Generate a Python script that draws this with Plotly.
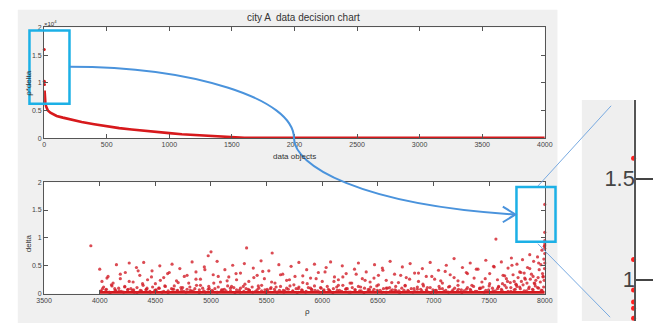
import plotly.graph_objects as go

W, H = 665, 329

def px(x):
    return x / W

def py(y):
    return 1 - y / H

# ---------------- data ----------------
# top: decision values (rho*delta, in units of 1e4) sorted by rank
head_rank = [1, 2, 3]
head_gamma = [1.60, 1.03, 0.97]
rank = [4, 5, 6, 8, 10, 15, 20, 30, 50, 75, 100, 150, 200, 300, 400, 500, 600, 700,
        800, 900, 1000, 1100, 1200, 1300, 1400, 1500, 1550, 1600, 2000, 3000, 4000]
gamma = [0.86, 0.80, 0.75, 0.70, 0.64, 0.58, 0.54, 0.50, 0.46, 0.43, 0.40, 0.37, 0.34,
         0.29, 0.25, 0.21, 0.18, 0.155, 0.13, 0.11, 0.09, 0.07, 0.055, 0.04, 0.03, 0.02,
         0.01, 0.005, 0.004, 0.004, 0.004]

# bottom: delta vs rho scatter
rho_low = [4010, 4035, 4060, 4085, 4110, 4140, 4170, 4195, 4225, 4250, 4280, 4310, 4335, 4365,
           4390, 4420, 4450, 4475, 4505, 4530, 4560, 4590, 4615, 4645, 4670, 4700, 4730, 4755,
           4785, 4810, 4840, 4870, 4895, 4925, 4950, 4980, 5010, 5035, 5065, 5090, 5120, 5150,
           5175, 5205, 5230, 5260, 5290, 5315, 5345, 5370, 5400, 5430, 5455, 5485, 5510, 5540,
           5570, 5595, 5625, 5650, 5680, 5710, 5735, 5765, 5790, 5820, 5850, 5875, 5905, 5930,
           5960, 5990, 6015, 6045, 6070, 6100, 6130, 6155, 6185, 6210, 6240, 6270, 6295, 6325,
           6350, 6380, 6410, 6435, 6465, 6490, 6520, 6550, 6575, 6605, 6630, 6660, 6690, 6715,
           6745, 6770, 6800, 6830, 6855, 6885, 6910, 6940, 6970, 6995, 7025, 7050, 7080, 7110,
           7135, 7165, 7190, 7220, 7250, 7275, 7305, 7330, 7360, 7390, 7415, 7445, 7470, 7500,
           7530, 7555, 7585, 7610, 7640, 7670, 7695, 7725, 7750, 7780, 7805, 7835, 7860, 7890,
           7915, 7945, 7970, 7990]
delta_low = [.05, .12, .08, .03, .14, .06, .10, .04, .13, .07, .09, .03, .11, .06,
             .15, .08, .04, .12, .07, .10, .03, .13, .05, .09, .14, .06, .11, .04,
             .08, .12, .05, .15, .07, .10, .03, .13, .06, .09, .12, .04, .08, .14,
             .05, .11, .07, .03, .13, .09, .06, .12, .04, .10, .15, .07, .05, .11,
             .08, .03, .13, .06, .10, .14, .04, .09, .12, .06, .03, .11, .08, .14,
             .05, .10, .07, .13, .04, .09, .12, .06, .15, .08, .03, .11, .07, .13,
             .05, .10, .04, .12, .08, .14, .06, .09, .03, .11, .07, .13, .05, .10,
             .15, .06, .09, .04, .12, .08, .14, .05, .11, .07, .03, .13, .09, .06,
             .12, .04, .10, .15, .07, .05, .11, .08, .13, .04, .09, .12, .06, .14,
             .10, .05, .13, .08, .15, .04, .11, .07, .13, .09, .16, .05, .12, .08,
             .14, .10, .06, .12]
rho_mid = [3920, 4000, 4020, 4075, 4120, 4150, 4185, 4230, 4265, 4300, 4330, 4360, 4395, 4430,
           4470, 4500, 4540, 4575, 4610, 4650, 4690, 4720, 4760, 4800, 4830, 4865, 4905, 4940,
           4975, 5000, 5020, 5055, 5085, 5125, 5160, 5195, 5230, 5265, 5300, 5320, 5340, 5380,
           5415, 5450, 5480, 5520, 5550, 5575, 5610, 5645, 5680, 5720, 5755, 5790, 5825, 5860,
           5895, 5930, 5965, 6000, 6035, 6075, 6110, 6145, 6180, 6215, 6250, 6290, 6325, 6360,
           6395, 6430, 6470, 6505, 6540, 6575, 6610, 6650, 6685, 6720, 6755, 6790, 6830, 6865,
           6900, 6935, 6970, 7010, 7045, 7080, 7115, 7150, 7185, 7220, 7260, 7295, 7330, 7365,
           7400, 7435, 7470, 7505, 7540, 7561, 7575, 7610, 7640, 7670, 7700, 7725, 7750, 7775,
           7800, 7820, 7845, 7865, 7880, 7900, 7920, 7935, 7950, 7965, 7975, 7985, 7992, 7996,
           7620, 7655, 7690, 7715, 7740, 7760, 7790, 7815, 7840, 7870, 7895, 7910, 7940, 7960,
           7980, 7995, 7998, 8000, 8000, 8000, 8000, 8000, 8000, 8000, 8000]
delta_mid = [.86, .44, .22, .31, .19, .52, .27, .38, .55, .21, .47, .33, .56, .25,
             .41, .18, .50, .29, .36, .53, .23, .45, .31, .19, .57, .39, .26, .48,
             .68, .75, .34, .58, .21, .43, .30, .51, .25, .37, .54, .82, .22, .46,
             .33, .59, .27, .41, .73, .19, .52, .35, .24, .49, .31, .56, .20, .43,
             .28, .53, .38, .22, .47, .57, .30, .25, .50, .36, .19, .44, .55, .27,
             .39, .21, .52, .33, .46, .24, .58, .35, .20, .48, .29, .54, .37, .22,
             .45, .31, .56, .26, .42, .19, .51, .34, .63, .23, .47, .38, .55, .28,
             .44, .21, .60, .36, .49, .98, .25, .57, .32, .46, .64, .22, .53, .39,
             .61, .28, .47, .70, .35, .58, .24, .66, .43, .52, .78, .31, .62, .85,
             .18, .27, .20, .34, .17, .29, .22, .37, .19, .26, .31, .18, .29, .21,
             .36, .24, .45, 1.60, 1.10, 0.95, 0.89, 0.86, 0.81, 0.72, 0.55]
rho_extra = [4025, 4065, 4105, 4145, 4185, 4225, 4265, 4305, 4345, 4385,
             4425, 4465, 4505, 4545, 4585, 4625, 4665, 4705, 4745, 4785,
             4825, 4865, 4905, 4945, 4985, 5025, 5065, 5105, 5145, 5185,
             5225, 5265, 5305, 5345, 5385, 5425, 5465, 5505, 5545, 5585,
             5625, 5665, 5705, 5745, 5785, 5825, 5865, 5905, 5945, 5985,
             6025, 6065, 6105, 6145, 6185, 6225, 6265, 6305, 6345, 6385,
             6425, 6465, 6505, 6545, 6585, 6625, 6665, 6705, 6745, 6785,
             6825, 6865, 6905, 6945, 6985, 7025, 7065, 7105, 7145, 7185,
             7225, 7265, 7305, 7345, 7385, 7425, 7465, 7505, 7545, 7585,
             7625, 7665, 7705, 7745, 7785, 7825, 7865, 7905, 7945, 7985]
delta_extra = [.09, .28, .16, .05, .35, .12, .22, .07, .41, .18,
               .10, .30, .06, .24, .14, .38, .08, .20, .11, .33,
               .04, .26, .15, .43, .09, .19, .31, .07, .23, .13,
               .36, .10, .17, .06, .29, .14, .40, .08, .21, .12,
               .34, .05, .25, .16, .09, .32, .18, .07, .27, .11,
               .39, .06, .22, .15, .30, .09, .19, .35, .12, .24,
               .07, .28, .16, .42, .10, .20, .05, .33, .14, .26,
               .09, .37, .17, .11, .31, .06, .23, .40, .13, .29,
               .08, .21, .36, .15, .44, .10, .27, .18, .48, .12,
               .33, .22, .51, .16, .38, .26, .45, .19, .55, .30]
rho_dense = [4015, 4055, 4095, 4135, 4175, 4215, 4255, 4295, 4335, 4375,
             4415, 4455, 4495, 4535, 4575, 4615, 4655, 4695, 4735, 4775,
             4815, 4855, 4895, 4935, 4975, 5015, 5055, 5095, 5135, 5175,
             5215, 5255, 5295, 5335, 5375, 5415, 5455, 5495, 5535, 5575,
             5615, 5655, 5695, 5735, 5775, 5815, 5855, 5895, 5935, 5975,
             6015, 6055, 6095, 6135, 6175, 6215, 6255, 6295, 6335, 6375,
             6415, 6455, 6495, 6535, 6575, 6615, 6655, 6695, 6735, 6775,
             6815, 6855, 6895, 6935, 6975, 7015, 7055, 7095, 7135, 7175,
             7215, 7255, 7295, 7335, 7375, 7415, 7455, 7495, 7535, 7575,
             7615, 7655, 7695, 7735, 7775, 7815, 7855, 7895, 7935, 7975]
delta_dense = [.04, .07, .02, .09, .05, .03, .08, .06, .02, .05,
               .07, .03, .06, .10, .04, .02, .08, .05, .07, .03,
               .06, .09, .02, .05, .08, .04, .03, .07, .05, .10,
               .02, .06, .04, .08, .03, .07, .05, .02, .09, .04,
               .06, .03, .08, .05, .02, .07, .04, .10, .06, .03,
               .05, .08, .02, .06, .04, .09, .03, .07, .05, .02,
               .08, .04, .06, .03, .10, .05, .07, .02, .06, .04,
               .03, .08, .05, .07, .02, .06, .09, .04, .03, .07,
               .05, .02, .08, .06, .04, .10, .03, .07, .05, .09,
               .06, .11, .04, .08, .12, .05, .09, .07, .11, .06]
base_rho = [4000, 8000]
base_delta = [0.015, 0.015]

# x/y ticks
top_xticks = [0, 500, 1000, 1500, 2000, 2500, 3000, 3500, 4000]
bot_xticks = [3500, 4000, 4500, 5000, 5500, 6000, 6500, 7000, 7500, 8000]
y_ticks = [0, 0.5, 1, 1.5, 2]
y_ticktext = ["0", "0.5", "1", "1.5", "2"]
inset_ticks = [1, 1.5]

RED = "#d7191c"
DOT = "rgba(210,30,40,0.8)"
FONT = "Liberation Sans, Arial, sans-serif"

fig = go.Figure()
fig.add_trace(go.Scatter(x=rank, y=gamma, mode="lines", line=dict(color=RED, width=2.6),
                         xaxis="x", yaxis="y", showlegend=False, hoverinfo="skip"))
fig.add_trace(go.Scatter(x=head_rank, y=head_gamma, mode="markers",
                         marker=dict(color=RED, size=3), xaxis="x", yaxis="y",
                         showlegend=False, cliponaxis=False))
fig.add_trace(go.Scatter(x=base_rho, y=base_delta, mode="lines", line=dict(color=RED, width=3.5),
                         xaxis="x2", yaxis="y2", showlegend=False))
for xs, ys in ((rho_dense, delta_dense), (rho_low, delta_low), (rho_extra, delta_extra),
               (rho_mid, delta_mid)):
    fig.add_trace(go.Scatter(x=xs, y=ys, mode="markers", marker=dict(color=DOT, size=3.2),
                             xaxis="x2", yaxis="y2", showlegend=False, cliponaxis=False))
ins_x = [r for r, d in zip(rho_mid, delta_mid) if r == 8000 and d > 0.78]
ins_y = [d for r, d in zip(rho_mid, delta_mid) if r == 8000 and d > 0.78]
fig.add_trace(go.Scatter(x=ins_x, y=ins_y, mode="markers",
                         marker=dict(color="#ff2020", size=5),
                         xaxis="x3", yaxis="y3", showlegend=False, cliponaxis=False))

axcommon = dict(showline=True, linecolor="#555", linewidth=1, mirror="ticks", ticks="inside",
                ticklen=4, tickcolor="#555", showgrid=False, zeroline=False,
                tickfont=dict(size=7, color="#444", family=FONT))

fig.update_layout(
    width=W, height=H, margin=dict(l=0, r=0, t=0, b=0),
    paper_bgcolor="white", plot_bgcolor="rgba(0,0,0,0)",
    xaxis=dict(domain=[px(37), px(550)], range=[0, 4000], tickvals=top_xticks,
               anchor="y", **axcommon),
    yaxis=dict(domain=[py(137), py(24)], range=[0, 2], tickvals=y_ticks,
               ticktext=y_ticktext, anchor="x", **axcommon),
    xaxis2=dict(domain=[px(37), px(550)], range=[3500, 8000], tickvals=bot_xticks,
                anchor="y2", **axcommon),
    yaxis2=dict(domain=[py(296), py(182)], range=[0, 2], tickvals=y_ticks,
                ticktext=y_ticktext, anchor="x2", **axcommon),
    xaxis3=dict(domain=[px(588), px(641)], range=[7990, 8000], visible=False, anchor="y3"),
    yaxis3=dict(domain=[py(324), py(98)], range=[0.796, 1.888], anchor="x3", side="right",
                showline=True, linecolor="#555", linewidth=2, ticks="outside", ticklen=17,
                tickwidth=2, tickcolor="#444", tickvals=inset_ticks, ticktext=["1", "1.5"],
                ticklabelposition="inside", showgrid=False, zeroline=False,
                tickfont=dict(size=22, color="#444", family=FONT)),
)

shapes = []
def rect(x0, y0, x1, y1, **kw):
    shapes.append(dict(type="rect", xref="paper", yref="paper", x0=px(x0), x1=px(x1),
                       y0=py(y1), y1=py(y0), **kw))

rect(10, 6, 563, 326, fillcolor="#f0f0f0", line=dict(width=0), layer="below")
rect(37, 24, 550, 137, fillcolor="white", line=dict(width=0), layer="below")
rect(37, 182, 550, 296, fillcolor="white", line=dict(width=0), layer="below")
rect(588, 98, 641, 324, fillcolor="#efefef", line=dict(width=0), layer="below")

CYAN = "#1cb0e6"
rect(22, 27, 63, 102, line=dict(color=CYAN, width=2.5), layer="above")
rect(521, 187, 561, 243, line=dict(color=CYAN, width=2.5), layer="above")

def P(x, y):
    return f"{px(x):.5f},{py(y):.5f}"

BLUE = "#4a93dc"
curve = (f"M {P(63,64)} C {P(190,64)} {P(293,97)} {P(293,137)} "
         f"C {P(293,165)} {P(360,205)} {P(519,215)}")
shapes.append(dict(type="path", xref="paper", yref="paper", path=curve,
                   line=dict(color=BLUE, width=2)))
arrow = f"M {P(507,207)} L {P(520,215)} L {P(507,223)}"
shapes.append(dict(type="path", xref="paper", yref="paper", path=arrow,
                   line=dict(color=BLUE, width=2)))
thin = "rgb(120,170,225)"
shapes.append(dict(type="line", xref="paper", yref="paper", x0=px(543), y0=py(186),
                   x1=px(618), y1=py(104), line=dict(color=thin, width=1)))
shapes.append(dict(type="line", xref="paper", yref="paper", x0=px(543), y0=py(245),
                   x1=px(617), y1=py(320), line=dict(color=thin, width=1)))
fig.update_layout(shapes=shapes)

def ann(x, y, text, size=8, angle=0, **kw):
    fig.add_annotation(xref="paper", yref="paper", x=px(x), y=py(y), text=text,
                       showarrow=False, textangle=angle, xanchor="center", yanchor="middle",
                       font=dict(size=size, color="#333", family=FONT), **kw)

ann(303, 14, "city A  data decision chart", size=10)
ann(294, 156, "data objects", size=8)
ann(21, 80, "ρ*delta", size=8, angle=-90)
ann(21, 244, "delta", size=8, angle=-90)
ann(307, 314, "ρ", size=8)
ann(44, 19, "×10<sup>4</sup>", size=6)

fig.write_html("out.html", config={"displayModeBar": False},
               post_script=("document.body.style.margin='0px';"
                            "document.body.style.overflow='hidden';"
                            "document.documentElement.style.overflow='hidden';"))
